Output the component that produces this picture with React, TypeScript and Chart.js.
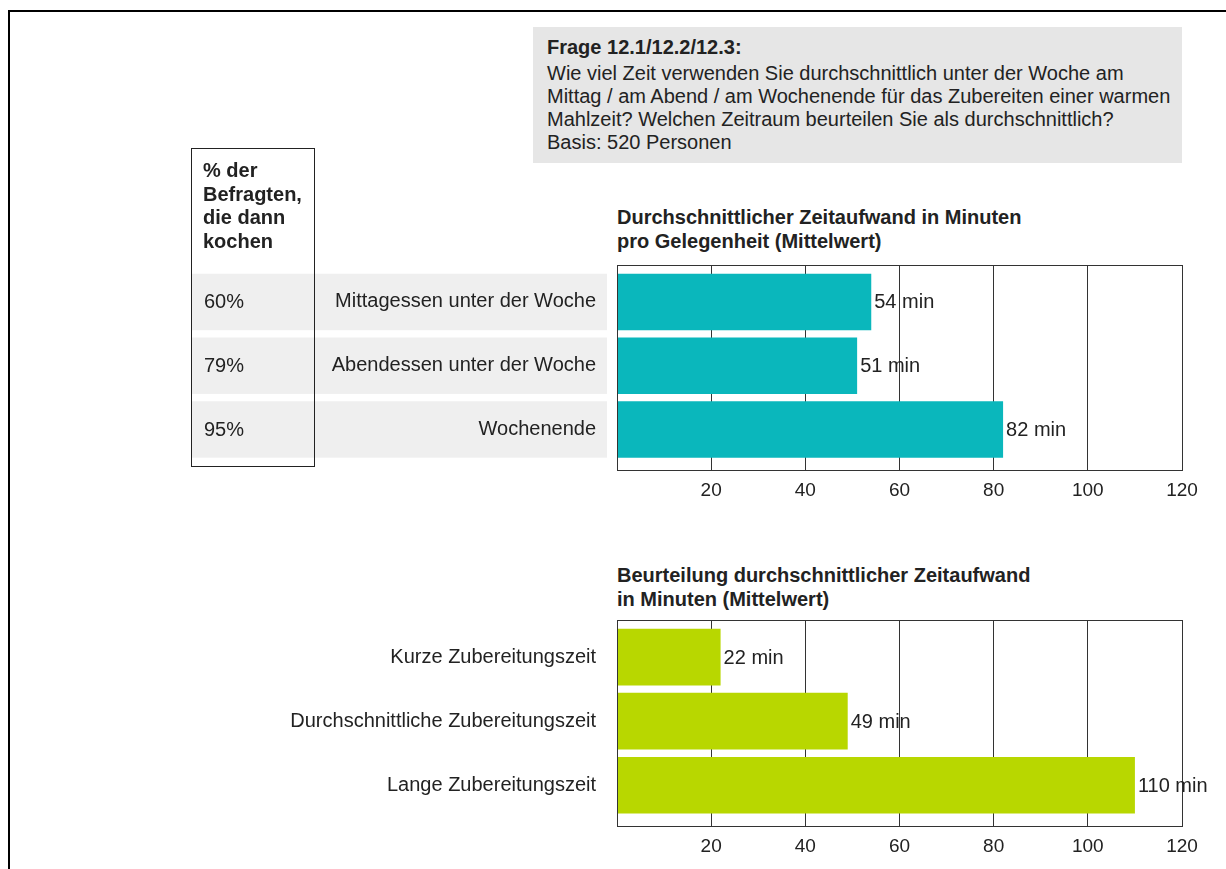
import React, { useEffect, useRef } from "react";
import { Chart, registerables } from "chart.js";

Chart.register(...registerables);

const FONT = '"Liberation Sans", Arial, sans-serif';
const TEXT = "#222222";

// ---- data ----
const timeCategories = ["Mittagessen unter der Woche", "Abendessen unter der Woche", "Wochenende"];
const timeMinutes = [54, 51, 82];
const cookPercent = [60, 79, 95];

const ratingCategories = ["Kurze Zubereitungszeit", "Durchschnittliche Zubereitungszeit", "Lange Zubereitungszeit"];
const ratingMinutes = [22, 49, 110];

const axisMin = 0;
const axisMax = 120;
const axisStep = 20;

const questionTitle = "Frage 12.1/12.2/12.3:";
const questionLines = [
  "Wie viel Zeit verwenden Sie durchschnittlich unter der Woche am",
  "Mittag / am Abend / am Wochenende für das Zubereiten einer warmen",
  "Mahlzeit? Welchen Zeitraum beurteilen Sie als durchschnittlich?",
  "Basis: 520 Personen",
];
const percentHeader = ["% der", "Befragten,", "die dann", "kochen"];
const chart1Title = ["Durchschnittlicher Zeitaufwand in Minuten", "pro Gelegenheit (Mittelwert)"];
const chart2Title = ["Beurteilung durchschnittlicher Zeitaufwand", "in Minuten (Mittelwert)"];

type BarProps = {
  labels: string[];
  values: number[];
  color: string;
  percents?: number[];
  top: number;
  height: number;
};

const CANVAS_LEFT = 180;
const CANVAS_WIDTH = 1046;
const PLOT_LEFT = 617;

function BarChart({ labels, values, color, percents, top, height }: BarProps) {
  const ref = useRef<HTMLCanvasElement | null>(null);

  useEffect(() => {
    if (!ref.current) return;
    const fontSpec = `20px ${FONT}`;

    const decorPlugin = {
      id: "decor",
      beforeDraw(chart: any) {
        if (!percents) return;
        const ctx = chart.ctx;
        const meta = chart.getDatasetMeta(0);
        ctx.save();
        ctx.fillStyle = "#efefef";
        meta.data.forEach((el: any) => {
          const h = el.height;
          ctx.fillRect(12, el.y - h / 2, 415, h);
        });
        ctx.restore();
      },
      afterDatasetsDraw(chart: any) {
        const ctx = chart.ctx;
        const meta = chart.getDatasetMeta(0);
        const area = chart.chartArea;
        ctx.save();
        ctx.strokeStyle = "#333333";
        ctx.lineWidth = 1;
        ctx.strokeRect(Math.round(area.left) + 0.5, Math.round(area.top) + 0.5, Math.round(area.right - area.left), Math.round(area.bottom - area.top));
        ctx.font = fontSpec;
        ctx.fillStyle = TEXT;
        ctx.textBaseline = "middle";
        ctx.textAlign = "left";
        meta.data.forEach((el: any, i: number) => {
          ctx.fillText(`${values[i]} min`, el.x + 3, el.y + 1);
          if (percents) {
            ctx.fillText(`${percents[i]}%`, 24, el.y + 1);
          }
        });
        ctx.restore();
      },
    };

    const points = values.map((v, i) => ({ x: v, y: i }));

    const chart = new Chart(ref.current, {
      type: "bar",
      data: {
        datasets: [
          {
            data: points,
            backgroundColor: color,
            borderWidth: 0,
            categoryPercentage: 1,
            barPercentage: 0.885,
          },
        ],
      },
      options: {
        indexAxis: "y",
        animation: false,
        responsive: false,
        events: [],
        layout: { padding: { top: 10, right: 44, left: 0, bottom: 0 } },
        plugins: {
          legend: { display: false },
          tooltip: { enabled: false },
          title: { display: false },
        },
        scales: {
          x: {
            type: "linear",
            min: axisMin,
            max: axisMax,
            afterFit(scale: any) {
              scale.height = 30;
              scale.paddingLeft = 0;
              scale.paddingRight = 0;
            },
            ticks: {
              stepSize: axisStep,
              color: TEXT,
              padding: 9,
              font: { family: FONT, size: 19 },
              maxRotation: 0,
              callback: (v: any) => (Number(v) === 0 ? "" : String(v)),
            },
            grid: { color: "#333333", lineWidth: 1, drawTicks: false },
            border: { display: true, color: "#333333", width: 1 },
          },
          y: {
            type: "linear",
            reverse: true,
            min: -0.58,
            max: 2.636,
            offset: false,
            afterFit(scale: any) {
              scale.width = PLOT_LEFT - CANVAS_LEFT;
              scale.paddingTop = 0;
              scale.paddingBottom = 0;
            },
            afterBuildTicks(scale: any) {
              scale.ticks = labels.map((_, i) => ({ value: i }));
            },
            ticks: {
              color: TEXT,
              padding: 21,
              autoSkip: false,
              font: { family: FONT, size: 20 },
              callback: (v: any) => {
                const n = Number(v);
                return Number.isInteger(n) && labels[n] !== undefined ? labels[n] : "";
              },
            },
            grid: { display: false, drawTicks: false },
            border: { display: false },
          },
        },
      },
      plugins: [decorPlugin],
    } as any);

    return () => chart.destroy();
  }, [labels, values, color, percents]);

  return (
    <div style={{ position: "absolute", left: CANVAS_LEFT, top, width: CANVAS_WIDTH, height }}>
      <canvas ref={ref} width={CANVAS_WIDTH} height={height} style={{ width: CANVAS_WIDTH, height, display: "block" }} />
    </div>
  );
}

export default function App() {
  const textBase: React.CSSProperties = {
    position: "absolute",
    fontFamily: FONT,
    fontSize: 20,
    color: TEXT,
    whiteSpace: "nowrap",
  };

  return (
    <div style={{ position: "absolute", left: 0, top: 0, width: 1226, height: 869, background: "#fff", overflow: "hidden" }}>
      {/* outer frame */}
      <div style={{ position: "absolute", left: 8, top: 10, width: 1230, height: 870, borderTop: "2px solid #000", borderLeft: "2px solid #000" }} />

      {/* question box */}
      <div style={{ ...textBase, left: 533, top: 27, width: 649, height: 136, background: "#e6e6e6", boxSizing: "border-box", paddingLeft: 14, paddingTop: 9, lineHeight: "23px" }}>
        <div style={{ fontWeight: "bold", marginBottom: 3 }}>{questionTitle}</div>
        {questionLines.map((l) => (
          <div key={l}>{l}</div>
        ))}
      </div>

      {/* chart 1 */}
      <BarChart labels={timeCategories} values={timeMinutes} color="#0ab7bc" percents={cookPercent} top={255} height={245} />

      {/* percent box */}
      <div style={{ ...textBase, left: 191, top: 148, width: 124, height: 319, boxSizing: "border-box", border: "1px solid #222", paddingLeft: 11, paddingTop: 10, lineHeight: "23.5px", fontWeight: "bold" }}>
        {percentHeader.map((l) => (
          <div key={l}>{l}</div>
        ))}
      </div>

      <div style={{ ...textBase, left: 617, top: 205, lineHeight: "24px", fontWeight: "bold" }}>
        {chart1Title.map((l) => (
          <div key={l}>{l}</div>
        ))}
      </div>

      {/* chart 2 */}
      <div style={{ ...textBase, left: 617, top: 563, lineHeight: "24px", fontWeight: "bold" }}>
        {chart2Title.map((l) => (
          <div key={l}>{l}</div>
        ))}
      </div>
      <BarChart labels={ratingCategories} values={ratingMinutes} color="#b8d700" top={610} height={246} />
    </div>
  );
}
